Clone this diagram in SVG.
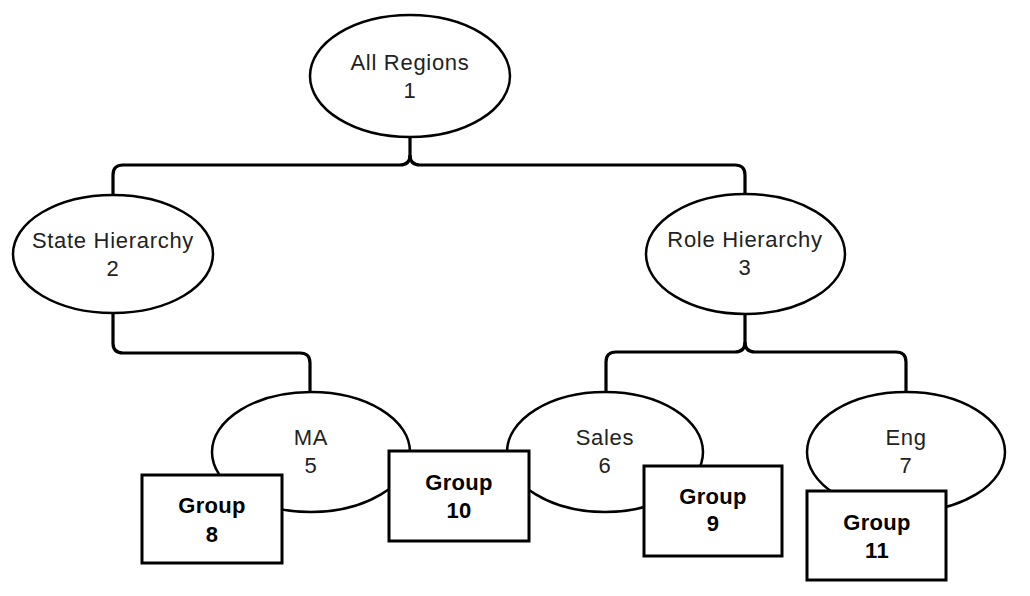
<svg xmlns="http://www.w3.org/2000/svg" width="1030" height="596" viewBox="0 0 1030 596">
<style>
.bg{fill:#fff}
.el{fill:#fff;stroke:#000;stroke-width:2.5}
.bx{fill:#fff;stroke:#000;stroke-width:3}
.cn{fill:none;stroke:#000;stroke-width:3.2}
.t{font-family:"Liberation Sans",Arial,sans-serif;font-size:22px;fill:#222;text-anchor:middle;letter-spacing:0.7px}
.g{font-family:"Liberation Sans",Arial,sans-serif;font-size:22px;font-weight:bold;fill:#000;text-anchor:middle;letter-spacing:0.3px}
</style>
<rect class="bg" x="0" y="0" width="1030" height="596"/>
<g id="connectors">
<path class="cn" d="M410,137 V155 Q410,165 400,165 H123 Q113,165 113,175 V195"/>
<path class="cn" d="M410,155 Q410,165 420,165 H735 Q745,165 745,175 V194"/>
<path class="cn" d="M113,313 V343 Q113,353 123,353 H300 Q310,353 310,363 V392"/>
<path class="cn" d="M745,314 V342 Q745,352 735,352 H616 Q606,352 606,362 V392"/>
<path class="cn" d="M745,342 Q745,352 755,352 H896 Q906,352 906,362 V392"/>
</g>
<g id="n1">
<ellipse class="el" cx="410" cy="76" rx="100" ry="61"/>
<text class="t" x="410" y="70">All Regions</text>
<text class="t" x="410" y="98">1</text>
</g>
<g id="n2">
<ellipse class="el" cx="113" cy="254" rx="100" ry="59"/>
<text class="t" x="113" y="248">State Hierarchy</text>
<text class="t" x="113" y="276">2</text>
</g>
<g id="n3">
<ellipse class="el" cx="745.5" cy="254" rx="99.5" ry="60"/>
<text class="t" x="745" y="247">Role Hierarchy</text>
<text class="t" x="745" y="275">3</text>
</g>
<g id="n5">
<ellipse class="el" cx="311" cy="452" rx="99" ry="60"/>
<text class="t" x="311" y="445">MA</text>
<text class="t" x="311" y="473">5</text>
</g>
<g id="n6">
<ellipse class="el" cx="605" cy="452" rx="98" ry="60"/>
<text class="t" x="605" y="445">Sales</text>
<text class="t" x="605" y="473">6</text>
</g>
<g id="n7">
<ellipse class="el" cx="906" cy="452" rx="99" ry="60"/>
<text class="t" x="906" y="445">Eng</text>
<text class="t" x="906" y="473">7</text>
</g>
<g id="n8">
<rect class="bx" x="142" y="475" width="140" height="88"/>
<text class="g" x="212" y="513">Group</text>
<text class="g" x="212" y="542">8</text>
</g>
<g id="n10">
<rect class="bx" x="389" y="451" width="140" height="90"/>
<text class="g" x="459" y="490">Group</text>
<text class="g" x="459" y="518">10</text>
</g>
<g id="n9">
<rect class="bx" x="644" y="466" width="138" height="90"/>
<text class="g" x="713" y="504">Group</text>
<text class="g" x="713" y="531">9</text>
</g>
<g id="n11">
<rect class="bx" x="807" y="491" width="139" height="89"/>
<text class="g" x="877" y="530">Group</text>
<text class="g" x="877" y="558">11</text>
</g>
</svg>
